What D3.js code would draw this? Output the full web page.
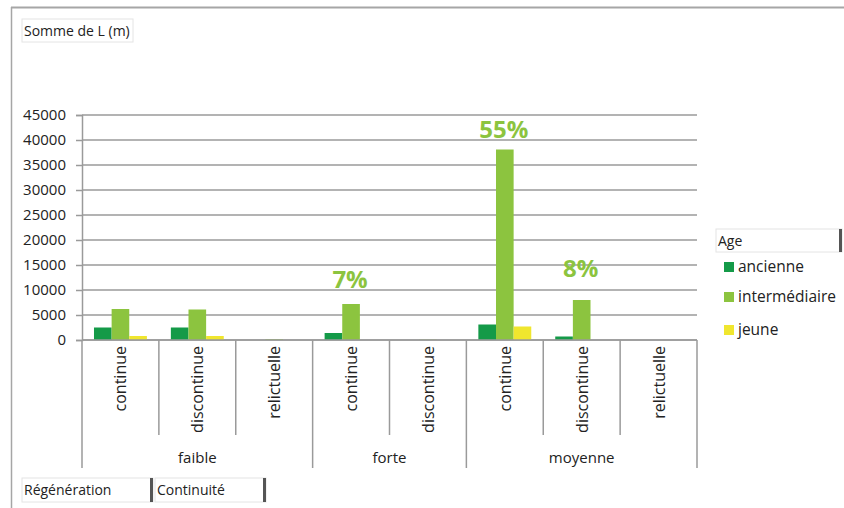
<!DOCTYPE html>
<html>
<head>
<meta charset="utf-8">
<script src="https://cdn.jsdelivr.net/npm/d3@7"></script>
<style>
  body { margin: 0; background: #fff; }
  svg { font-family: "Open Sans", "Noto Sans", sans-serif; }
</style>
</head>
<body>
<svg id="chart" width="844" height="508"></svg>
<script>
// data
const regeneration = ["faible", "forte", "moyenne"];
const continuite = [
  ["continue", "discontinue", "relictuelle"],
  ["continue", "discontinue"],
  ["continue", "discontinue", "relictuelle"]
];
const ages = ["ancienne", "intermédiaire", "jeune"];
const ancienne      = [2500, 2500, 0, 1400, 0, 3100, 700, 0];
const intermediaire = [6200, 6100, 150, 7200, 60, 38100, 8000, 0];
const jeune         = [800, 800, 0, 0, 0, 2700, 0, 0];
const yTicks = [0, 5000, 10000, 15000, 20000, 25000, 30000, 35000, 40000, 45000];
// percentage notes: category index, text, value height where the text sits
const notes = [
  { cat: 3, text: "7%", at: 10400 },
  { cat: 5, text: "55%", at: 40400 },
  { cat: 6, text: "8%", at: 12600 }
];

const colors = { "ancienne": "#149a48", "intermédiaire": "#8cc43f", "jeune": "#f0e62e" };
const series = [ancienne, intermediaire, jeune];

// flatten categories
let cats = [];
continuite.forEach((list, g) => list.forEach(c => cats.push({ group: g, name: c })));

const svg = d3.select("#chart");
const plotLeft = 82, plotRight = 697, plotTop = 115, plotBottom = 340;

// outer frame
svg.append("line").attr("x1", 11).attr("x2", 844).attr("y1", 7.5).attr("y2", 7.5)
  .attr("stroke", "#a6a6a6").attr("stroke-width", 2);
svg.append("line").attr("x1", 11.5).attr("x2", 11.5).attr("y1", 7).attr("y2", 508)
  .attr("stroke", "#a6a6a6").attr("stroke-width", 1.5);

// field buttons
function button(bx, by, w, h, label, bar) {
  svg.append("rect").attr("x", bx).attr("y", by).attr("width", w).attr("height", h)
    .attr("fill", "#fff").attr("stroke", "#e4e4e4");
  svg.append("text").attr("x", bx + 2).attr("y", by + h / 2 + 5).attr("font-size", 14)
    .attr("fill", "#222").text(label);
  if (bar) svg.append("rect").attr("x", bx + w - 3).attr("y", by).attr("width", 3).attr("height", h).attr("fill", "#555");
}
button(22, 19, 111, 23, "Somme de L (m)", false);
button(716, 229, 126, 23, "Age", true);
button(22, 478, 131, 24, "Régénération", true);
button(155, 478, 111, 24, "Continuité", true);

const x = d3.scaleBand().domain(d3.range(cats.length)).range([plotLeft, plotRight]).padding(0);
const xs = d3.scaleBand().domain(ages).range([0, x.bandwidth()]).paddingInner(0).paddingOuter(0.68);
const y = d3.scaleLinear().domain([0, 45000]).range([plotBottom, plotTop]);

// gridlines
svg.append("g").selectAll("line").data(yTicks).join("line")
  .attr("x1", plotLeft).attr("x2", plotRight)
  .attr("y1", d => y(d)).attr("y2", d => y(d))
  .attr("stroke", "#9a9a9a").attr("stroke-width", 1.5);

// y axis
const yAxis = svg.append("g").attr("transform", `translate(${plotLeft},0)`)
  .call(d3.axisLeft(y).tickValues(yTicks).tickSize(6).tickPadding(10).tickFormat(d3.format("d")));
yAxis.select(".domain").attr("stroke", "#9a9a9a").attr("stroke-width", 1.5);
yAxis.selectAll(".tick line").attr("stroke", "#9a9a9a").attr("stroke-width", 1.5);
yAxis.selectAll("text").attr("font-size", 15).attr("fill", "#222")
  .attr("font-family", "'Open Sans', sans-serif");

// bars
series.forEach((vals, si) => {
  svg.append("g").selectAll("rect").data(vals).join("rect")
    .attr("x", (d, i) => x(i) + xs(ages[si]))
    .attr("width", xs.bandwidth())
    .attr("y", d => y(d))
    .attr("height", d => plotBottom - y(d))
    .attr("fill", colors[ages[si]]);
});

// category axis: inner dividers and rotated labels
const bounds = [0];
continuite.forEach(list => bounds.push(bounds[bounds.length - 1] + list.length));
const axisColor = "#9a9a9a";
svg.append("line").attr("x1", plotLeft).attr("x2", plotRight).attr("y1", plotBottom).attr("y2", plotBottom)
  .attr("stroke", axisColor).attr("stroke-width", 1.5);
d3.range(cats.length + 1).forEach(i => {
  const xp = i < cats.length ? x(i) : plotRight;
  const isGroup = bounds.includes(i);
  svg.append("line").attr("x1", xp).attr("x2", xp).attr("y1", plotBottom).attr("y2", isGroup ? 468 : 435)
    .attr("stroke", axisColor).attr("stroke-width", 1.5);
});
svg.append("g").selectAll("text").data(cats).join("text")
  .attr("transform", (d, i) => `translate(${x(i) + x.bandwidth() / 2 + 6},346) rotate(-90)`)
  .attr("text-anchor", "end").attr("font-size", 16).attr("fill", "#222")
  .text(d => d.name);

// group labels
svg.append("g").selectAll("text").data(regeneration).join("text")
  .attr("x", (d, g) => (x(bounds[g]) + (bounds[g + 1] < cats.length ? x(bounds[g + 1]) : plotRight)) / 2)
  .attr("y", 463).attr("text-anchor", "middle").attr("font-size", 15).attr("fill", "#222")
  .text(d => d);

// percentage notes
svg.append("g").selectAll("text").data(notes).join("text")
  .attr("x", d => x(d.cat) + x.bandwidth() / 2 - 1)
  .attr("y", d => y(d.at))
  .attr("text-anchor", "middle").attr("font-size", 24).attr("font-weight", "bold")
  .attr("fill", "#8cc43f").text(d => d.text);

// legend
const lg = svg.append("g").attr("transform", "translate(724,262)");
ages.forEach((a, i) => {
  const row = lg.append("g").attr("transform", `translate(0,${[0, 30, 63][i]})`);
  row.append("rect").attr("width", 10).attr("height", 10).attr("fill", colors[a]);
  row.append("text").attr("x", 14).attr("y", 10).attr("font-size", 15.5).attr("fill", "#222").text(a);
});
</script>
</body>
</html>
